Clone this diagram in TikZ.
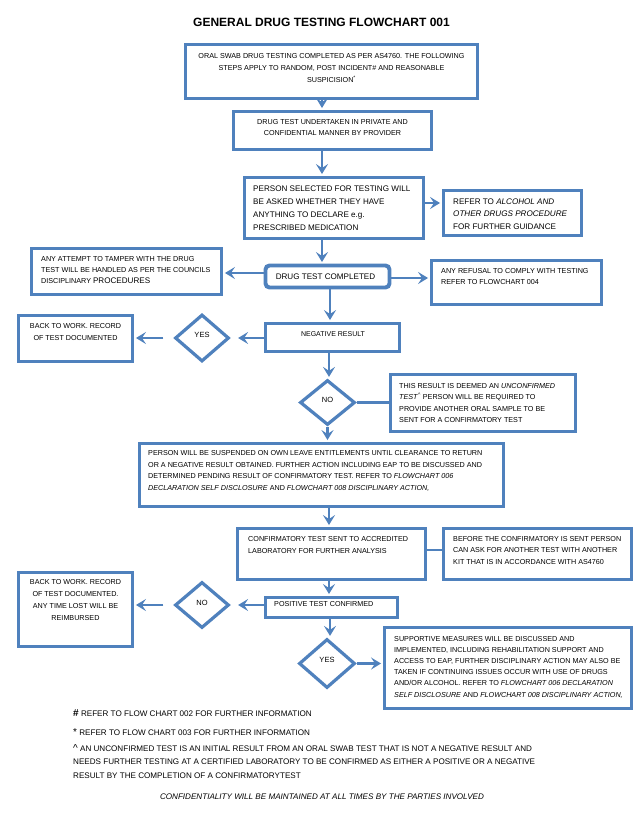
\documentclass[tikz,border=0pt]{standalone}
\usepackage{fontspec}
\setmainfont{Liberation Sans}
\usetikzlibrary{arrows.meta,shapes.geometric,calc}
\definecolor{fb}{RGB}{79,129,189}
\begin{document}
\begin{tikzpicture}[x=1pt,y=-1pt,
  box/.style={draw=fb, line width=3.9pt, inner sep=0pt, fill=white},
  dia/.style={diamond, draw=fb, line width=3.2pt, inner sep=0pt, fill=white},
  arr/.style={draw=fb, line width=2.7pt, shorten >=1.5pt, -{Stealth[length=10pt,width=12pt,inset=4pt]}},
  ln/.style={draw=fb, line width=2.7pt},
  ts/.style={inner sep=0pt, font=\fontsize{7.2}{11.5}\selectfont, align=left},
  tm/.style={inner sep=0pt, font=\fontsize{8.1}{13}\selectfont, align=left},
  fn/.style={inner sep=0pt, font=\fontsize{8.1}{13.5}\selectfont, align=left, anchor=west}]
\useasboundingbox[fill=white] (0,0) rectangle (635,833);

\node[font=\bfseries\fontsize{12}{14}\selectfont, inner sep=0pt] (title) at (321.5,22) {GENERAL DRUG TESTING FLOWCHART 001};

% boxes
\node[box, minimum width=292pt, minimum height=54pt] (b1) at (331.5,71.5) {};
\node[box, minimum width=198pt, minimum height=38pt] (b2) at (332.5,130.5) {};
\node[box, minimum width=179pt, minimum height=61pt] (b3) at (334,208) {};
\node[box, minimum width=138pt, minimum height=45pt] (b4) at (512.5,213) {};
\node[box, rounded corners=4pt, minimum width=124pt, minimum height=22pt] (b5) at (327.5,276.5) {};
\node[box, minimum width=190pt, minimum height=46pt] (b6) at (126.5,271.5) {};
\node[box, minimum width=170pt, minimum height=44pt] (b7) at (516.5,282.5) {};
\node[box, minimum width=134pt, minimum height=28pt] (b8) at (332.5,337.5) {};
\node[dia, minimum width=54pt, minimum height=47pt] (yes1) at (202,338) {};
\node[box, minimum width=114pt, minimum height=46pt] (b9) at (75.5,338.5) {};
\node[dia, minimum width=55pt, minimum height=45pt] (no1) at (327.5,402.5) {};
\node[box, minimum width=185pt, minimum height=57pt] (b10) at (483,403) {};
\node[box, minimum width=364pt, minimum height=63pt] (b11) at (321.5,475) {};
\node[box, minimum width=188pt, minimum height=51pt] (b12) at (331.5,554) {};
\node[box, minimum width=188pt, minimum height=51pt] (b13) at (537.5,554) {};
\node[box, minimum width=132pt, minimum height=20pt] (b14) at (331.5,607.5) {};
\node[dia, minimum width=54pt, minimum height=46pt] (no2) at (202,605) {};
\node[box, minimum width=114pt, minimum height=74pt] (b15) at (75.5,609.5) {};
\node[dia, minimum width=56pt, minimum height=49pt] (yes2) at (327,663.5) {};
\node[box, minimum width=247pt, minimum height=81pt] (b16) at (508,668) {};

% texts
\node[ts, align=center, font=\fontsize{7.2}{12}\selectfont] (t1) at (331.5,68) {ORAL SWAB DRUG TESTING COMPLETED AS PER AS4760. THE FOLLOWING\\STEPS APPLY TO RANDOM, POST INCIDENT\# AND REASONABLE\\SUSPICISION\textsuperscript{*}};
\node[ts, align=center, font=\fontsize{7.2}{11}\selectfont] (t2) at (332.5,127.5) {DRUG TEST UNDERTAKEN IN PRIVATE AND\\CONFIDENTIAL MANNER BY PROVIDER};
\node[tm, anchor=west] (t3) at (253,208.5) {PERSON SELECTED FOR TESTING WILL\\BE ASKED WHETHER THEY HAVE\\ANYTHING TO DECLARE e.g.\\PRESCRIBED MEDICATION};
\node[tm, anchor=west, font=\fontsize{8.1}{12.5}\selectfont] (t4) at (453,214) {REFER TO \textit{ALCOHOL AND}\\\textit{OTHER DRUGS PROCEDURE}\\FOR FURTHER GUIDANCE};
\node[tm] (t5) at (325.5,277) {DRUG TEST COMPLETED};
\node[ts, anchor=west, font=\fontsize{7.2}{11}\selectfont] (t6) at (41,270) {ANY ATTEMPT TO TAMPER WITH THE DRUG\\TEST WILL BE HANDLED AS PER THE COUNCILS\\DISCIPLINARY {\fontsize{8.1}{11}\selectfont PROCEDURES}};
\node[ts, anchor=west, font=\fontsize{7.2}{11}\selectfont] (t7) at (441,276.5) {ANY REFUSAL TO COMPLY WITH TESTING\\REFER TO FLOWCHART 004};
\node[ts, font=\fontsize{7}{11}\selectfont] (t8) at (333,334) {NEGATIVE RESULT};
\node[ts, font=\fontsize{7.5}{11}\selectfont] (ly1) at ([yshift=3pt]yes1.center) {YES};
\node[ts, align=center, font=\fontsize{7.2}{12}\selectfont] (t9) at (75.5,332) {BACK TO WORK. RECORD\\OF TEST DOCUMENTED};
\node[ts, font=\fontsize{7.5}{11}\selectfont] (ln1) at ([yshift=2.5pt]no1.center) {NO};
\node[ts, anchor=west, font=\fontsize{7.2}{11.4}\selectfont] (t10) at (399,403) {THIS RESULT IS DEEMED AN \textit{UNCONFIRMED}\\\textit{TEST}\textsuperscript{\textasciicircum} PERSON WILL BE REQUIRED TO\\PROVIDE ANOTHER ORAL SAMPLE TO BE\\SENT FOR A CONFIRMATORY TEST};
\node[ts, anchor=west, font=\fontsize{7.2}{11.4}\selectfont] (t11) at (148,471) {PERSON WILL BE SUSPENDED ON OWN LEAVE ENTITLEMENTS UNTIL CLEARANCE TO RETURN\\OR A NEGATIVE RESULT OBTAINED. FURTHER ACTION INCLUDING EAP TO BE DISCUSSED AND\\DETERMINED PENDING RESULT OF CONFIRMATORY TEST. REFER TO \textit{FLOWCHART 006}\\\textit{DECLARATION SELF DISCLOSURE} AND \textit{FLOWCHART 008 DISCIPLINARY ACTION,}};
\node[ts, anchor=west, font=\fontsize{7.2}{12}\selectfont] (t12) at (248,545) {CONFIRMATORY TEST SENT TO ACCREDITED\\LABORATORY FOR FURTHER ANALYSIS};
\node[ts, anchor=west, font=\fontsize{7.2}{11.5}\selectfont] (t13) at (453,550.5) {BEFORE THE CONFIRMATORY IS SENT PERSON\\CAN ASK FOR ANOTHER TEST WITH ANOTHER\\KIT THAT IS IN ACCORDANCE WITH AS4760};
\node[ts, anchor=west] (t14) at (274,604) {POSITIVE TEST CONFIRMED};
\node[ts, font=\fontsize{7.5}{11}\selectfont] (ln2) at ([yshift=2.5pt]no2.center) {NO};
\node[ts, align=center, font=\fontsize{7.2}{12}\selectfont] (t15) at (75.5,600) {BACK TO WORK. RECORD\\OF TEST DOCUMENTED.\\ANY TIME LOST WILL BE\\REIMBURSED};
\node[ts, font=\fontsize{7.5}{11}\selectfont] (ly2) at ([yshift=4pt]yes2.center) {YES};
\node[ts, anchor=west, font=\fontsize{7.2}{11.2}\selectfont] (t16) at (394,667) {SUPPORTIVE MEASURES WILL BE DISCUSSED AND\\IMPLEMENTED, INCLUDING REHABILITATION SUPPORT AND\\ACCESS TO EAP, FURTHER DISCIPLINARY ACTION MAY ALSO BE\\TAKEN IF CONTINUING ISSUES OCCUR WITH USE OF DRUGS\\AND/OR ALCOHOL. REFER TO \textit{FLOWCHART 006 DECLARATION}\\\textit{SELF DISCLOSURE} AND \textit{FLOWCHART 008 DISCIPLINARY ACTION,}};

% footnotes
\node[fn] (f1) at (73,713) {{\bfseries\fontsize{10}{12}\selectfont\#} REFER TO FLOW CHART 002 FOR FURTHER INFORMATION};
\node[fn] (f2) at (73,732) {{\fontsize{10}{12}\selectfont *} REFER TO FLOW CHART 003 FOR FURTHER INFORMATION};
\node[fn] (f3) at (73,761.5) {{\fontsize{10}{12}\selectfont\textasciicircum} AN UNCONFIRMED TEST IS AN INITIAL RESULT FROM AN ORAL SWAB TEST THAT IS NOT A NEGATIVE RESULT AND\\NEEDS FURTHER TESTING AT A CERTIFIED LABORATORY TO BE CONFIRMED AS EITHER A POSITIVE OR A NEGATIVE\\RESULT BY THE COMPLETION OF A CONFIRMATORYTEST};
\node[inner sep=0pt, font=\itshape\fontsize{8.1}{10}\selectfont] (foot) at (322,797) {CONFIDENTIALITY WILL BE MAINTAINED AT ALL TIMES BY THE PARTIES INVOLVED};

% connectors
\draw[arr] ([xshift=-9.5pt]b1.south) -- ([xshift=-9.5pt]b1.south |- b2.north);
\draw[arr] ([xshift=-10.5pt]b2.south) -- ([xshift=-10.5pt]b2.south |- b3.north);
\draw[arr] ([yshift=5pt]b3.east) -- ([yshift=5pt]b3.east -| b4.west);
\draw[arr] ([xshift=-12pt]b3.south) -- ([xshift=-12pt]b3.south |- b5.north);
\draw[arr] ([yshift=3.5pt]b5.west) -- ([yshift=3.5pt]b5.west -| b6.east);
\draw[arr] ([yshift=-1.5pt]b5.east) -- ([yshift=-1.5pt]b5.east -| b7.west);
\draw[arr] ([xshift=2.5pt]b5.south) -- ([xshift=2.5pt]b5.south |- b8.north);
\draw[arr] (b8.west |- yes1) -- ([xshift=6pt]yes1.east);
\draw[arr] ([xshift=-10pt]yes1.west) -- (yes1.west -| b9.east);
\draw[arr] ([xshift=-3.5pt]b8.south) -- ([xshift=-3.5pt]b8.south |- no1.north);
\draw[ln] (no1.east) -- (no1.east -| b10.west);
\draw[arr] (no1.south) -- (no1.south |- b11.north);
\draw[arr] ([xshift=7.5pt]b11.south) -- ([xshift=7.5pt]b11.south |- b12.north);
\draw[ln] ([yshift=4pt]b12.east) -- ([yshift=4pt]b12.east -| b13.west);
\draw[arr] ([xshift=-2.5pt]b12.south) -- ([xshift=-2.5pt]b12.south |- b14.north);
\draw[arr] (b14.west |- no2) -- ([xshift=6pt]no2.east);
\draw[arr] ([xshift=-10pt]no2.west) -- (no2.west -| b15.east);
\draw[arr] ([xshift=-1.5pt]b14.south) -- ([xshift=-1.5pt]b14.south |- yes2.north);
\draw[arr] (yes2.east) -- (yes2.east -| b16.west);
\end{tikzpicture}
\end{document}
